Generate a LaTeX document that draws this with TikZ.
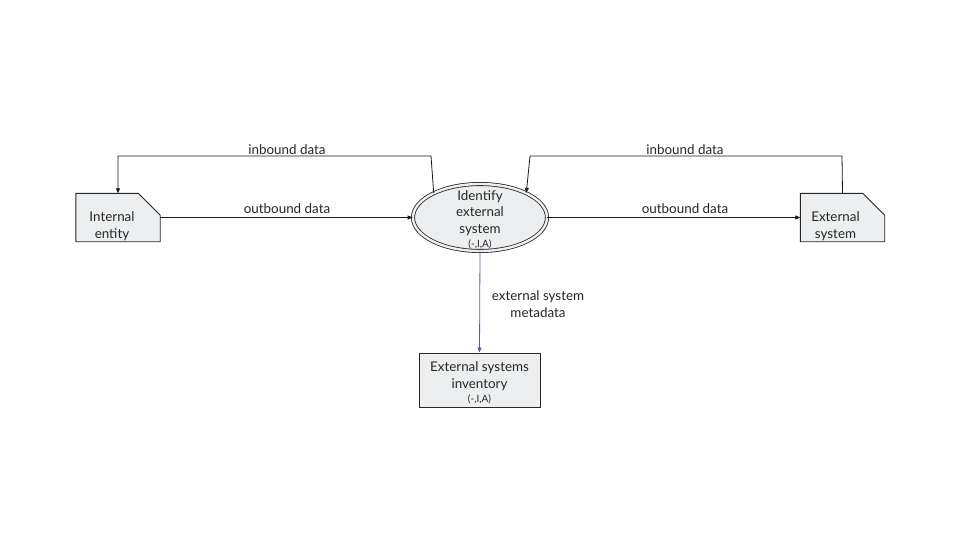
\documentclass[tikz,border=0pt]{standalone}
\usepackage{fontspec}
\setmainfont{Lato}
\usetikzlibrary{arrows.meta,shapes.geometric,backgrounds}
\definecolor{boxfill}{HTML}{ECEEEF}
\definecolor{metaline}{HTML}{6A4CC4}
\tikzset{
  every node/.style={font=\fontsize{13.4}{16.8}\selectfont, text=black!85},
  entitybox/.style={rectangle, minimum width=84pt, minimum height=48pt, inner sep=0pt},
  entitytext/.style={inner sep=0pt, align=center},
  cutshape/.style={draw=black!85, line width=0.9pt, fill=boxfill},
  procell/.style={ellipse, minimum width=134pt, minimum height=67pt, inner sep=0pt, align=center,
     draw=black!85, line width=0.8pt, double=boxfill, double distance=2.4pt, fill=boxfill},
  storebox/.style={rectangle, minimum width=121pt, minimum height=54pt, inner sep=0pt,
     draw=black!85, line width=0.9pt, fill=boxfill},
  flow/.style={draw=black!90, line width=0.8pt, -{Triangle[length=5pt,width=4pt]}},
  metaflow/.style={draw=metaline, line width=0.8pt, -{Triangle[length=5pt,width=4pt]}},
  flowlabel/.style={inner sep=1pt, align=center}
}
\newcommand{\smallline}[1]{{\fontsize{10}{11}\selectfont #1}}
\begin{document}
\begin{tikzpicture}[x=1pt,y=-1pt]
\useasboundingbox (0,0) rectangle (960,540);

% nodes
\node[entitybox] (ie) at (118,217.5) {};
\node[entitybox] (es) at (842.5,217.5) {};
\node[procell] (ell) at (480,217.5) {};
\node[storebox] (inv) at (479.5,380) {};

\begin{pgfonlayer}{background}
\draw[cutshape] (ie.south west) -- (ie.north west) -- ([xshift=-22pt]ie.north east)
   -- ([yshift=-22pt]ie.north east) -- (ie.south east) -- cycle;
\draw[cutshape] (es.south west) -- (es.north west) -- ([xshift=-22pt]es.north east)
   -- ([yshift=-22pt]es.north east) -- (es.south east) -- cycle;
\end{pgfonlayer}

% texts
\node[entitytext] (iet) at (112,226) {Internal\\entity};
\node[entitytext] (est) at (835.5,226) {External\\system};
\node[entitytext] (ellt) at (480,219.5) {Identify\\external\\system\\[-3pt]\smallline{(-,I,A)}};
\node[entitytext] (invt) at (479.5,383) {External systems\\inventory\\[-3pt]\smallline{(-,I,A)}};

% bend points
\coordinate (bl1) at (431,156);
\coordinate (bl2) at (118,156);
\coordinate (br1) at (842,156);
\coordinate (br2) at (530,156);

% connectors
\draw[flow] (ie.east) -- (ell.west);
\draw[flow] (ell.east) -- (es.west);
\draw[flow] (ell.152) -- (bl1) -- (bl2) -- (ie.north);
\draw[flow] (es.north) -- (br1) -- (br2) -- (ell.28);
\draw[metaflow] (ell.south) -- (inv.north);

% labels
\node[flowlabel] (l1) at (287,208.5) {outbound data};
\node[flowlabel] (l2) at (685,208.5) {outbound data};
\node[flowlabel] (l3) at (287,149.5) {inbound data};
\node[flowlabel] (l4) at (685,149.5) {inbound data};
\node[flowlabel] (l5) at (538,304) {external system\\metadata};
\end{tikzpicture}
\end{document}
